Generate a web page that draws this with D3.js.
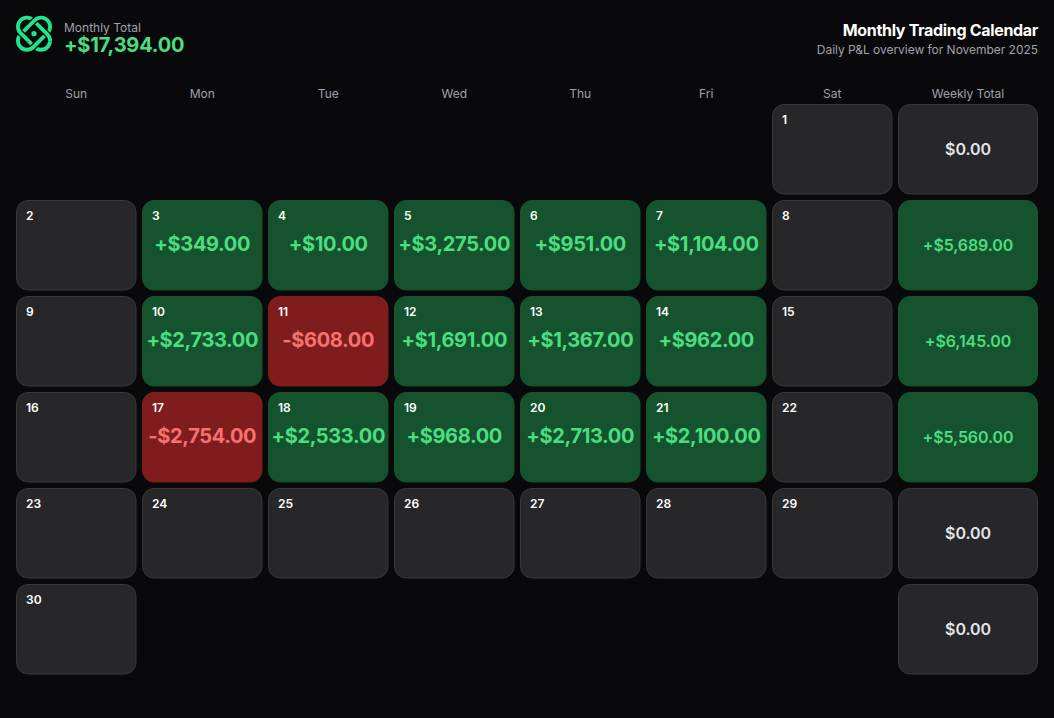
<!DOCTYPE html>
<html>
<head>
<meta charset="utf-8">
<script src="https://cdn.jsdelivr.net/npm/d3@7"></script>
<style>
  html, body { margin: 0; padding: 0; background: #09090b; }
  svg { display: block; font-family: Inter, sans-serif; }
</style>
</head>
<body>
<svg id="calendar" width="1054" height="718"></svg>
<script>
// ---- data ----
const weekdays = ['Sun', 'Mon', 'Tue', 'Wed', 'Thu', 'Fri', 'Sat'];
const weeklyLabel = 'Weekly Total';
const dayNumbers = d3.range(1, 31);
// Nov 1 2025 is a Saturday, so the grid starts on slot 6
const firstWeekday = 6;
const dayPnl = [
  null, null, 349, 10, 3275, 951, 1104, null,
  null, 2733, -608, 1691, 1367, 962, null,
  null, -2754, 2533, 968, 2713, 2100, null,
  null, null, null, null, null, null, null,
  null
];
const weeklyTotals = [0, 5689, 6145, 5560, 0, 0];
const monthlyTotal = 17394;

// ---- colors ----
const bg = '#09090b';
const emptyFill = '#27272a';
const emptyStroke = '#38383b';
const greenFill = '#14532d';
const redFill = '#7f1d1d';
const greenText = '#4ade80';
const redText = '#f87171';
const mutedText = '#a1a1aa';
const logoGreen = '#1fe58c';

// ---- helpers ----
function money(v) {
  if (v === 0) return '$0.00';
  const s = '$' + d3.format(',.2f')(Math.abs(v));
  return (v > 0 ? '+' : '-') + s;
}
function fillFor(v) {
  if (!v) return emptyFill;
  return v > 0 ? greenFill : redFill;
}
function textFor(v) {
  return v > 0 ? greenText : redText;
}

// ---- scales ----
const cellW = 120.5, weekW = 140;
const colX = d3.scaleLinear().domain([0, 7]).range([16, 898]);
const rowY = d3.scaleLinear().domain([0, 5]).range([104, 584]);
const cellH = 90.5;

const svg = d3.select('#calendar');

// ---- header ----
// logo: two crossed orbits, woven with a background halo at the crossings
const logo = svg.append('g').attr('transform', 'translate(34,33.7)').attr('fill', 'none');
function orbit(parent, angle, color, width) {
  return parent.append('rect')
    .attr('x', -19).attr('y', -9).attr('width', 38).attr('height', 18).attr('rx', 9)
    .attr('transform', `rotate(${angle})`)
    .attr('stroke', color).attr('stroke-width', width);
}
svg.append('defs').append('clipPath').attr('id', 'logo-sides')
  .selectAll('rect')
  .data([-1, 1])
  .join('rect')
  .attr('x', d => d < 0 ? -20 : 5).attr('y', -8).attr('width', 15).attr('height', 16);

orbit(logo, 45, logoGreen, 3.8);
orbit(logo, -45, bg, 6.4);
orbit(logo, -45, logoGreen, 3.8);
const sides = logo.append('g').attr('clip-path', 'url(#logo-sides)');
orbit(sides, 45, bg, 6.4);
orbit(sides, 45, logoGreen, 3.8);
logo.append('circle').attr('r', 2.6).attr('fill', logoGreen);

svg.append('text').attr('x', 64).attr('y', 32)
  .attr('font-size', 12).attr('fill', mutedText).text('Monthly Total');
svg.append('text').attr('x', 64).attr('y', 52)
  .attr('font-size', 20).attr('font-weight', 700).attr('letter-spacing', -0.2)
  .attr('fill', greenText).text(money(monthlyTotal));

svg.append('text').attr('x', 1038).attr('y', 36).attr('text-anchor', 'end')
  .attr('font-size', 16).attr('font-weight', 700).attr('letter-spacing', -0.32)
  .attr('fill', '#fff').text('Monthly Trading Calendar');
svg.append('text').attr('x', 1038).attr('y', 54).attr('text-anchor', 'end')
  .attr('font-size', 12).attr('letter-spacing', -0.03)
  .attr('fill', mutedText).text('Daily P&L overview for November 2025');

// ---- column headers ----
svg.selectAll('text.weekday')
  .data(weekdays)
  .join('text')
  .attr('class', 'weekday')
  .attr('x', (d, i) => colX(i) + cellW / 2)
  .attr('y', 98)
  .attr('text-anchor', 'middle')
  .attr('font-size', 12)
  .attr('fill', mutedText)
  .text(d => d);
svg.append('text')
  .attr('x', colX(7) + weekW / 2).attr('y', 98).attr('text-anchor', 'middle')
  .attr('font-size', 12).attr('fill', mutedText).text(weeklyLabel);

// ---- day cells ----
const days = dayNumbers.map((n, i) => {
  const slot = i + firstWeekday;
  return { n, v: dayPnl[i], col: slot % 7, row: Math.floor(slot / 7) };
});

const cells = svg.selectAll('g.day')
  .data(days)
  .join('g')
  .attr('class', 'day')
  .attr('transform', d => `translate(${colX(d.col)},${rowY(d.row)})`);

cells.append('rect')
  .attr('x', 0.5).attr('y', 0.5)
  .attr('width', cellW - 1).attr('height', cellH - 1).attr('rx', 11.5)
  .attr('fill', d => fillFor(d.v))
  .attr('stroke', d => d.v ? fillFor(d.v) : emptyStroke);

cells.append('text')
  .attr('x', 10).attr('y', 20)
  .attr('font-size', 12).attr('font-weight', 600).attr('fill', '#fff')
  .text(d => d.n);

cells.filter(d => d.v)
  .append('text')
  .attr('x', cellW / 2).attr('y', 50.5).attr('text-anchor', 'middle')
  .attr('font-size', 20).attr('font-weight', 700).attr('letter-spacing', -0.35)
  .attr('fill', d => textFor(d.v))
  .text(d => money(d.v));

// ---- weekly totals ----
const weeks = svg.selectAll('g.week')
  .data(weeklyTotals)
  .join('g')
  .attr('class', 'week')
  .attr('transform', (d, i) => `translate(${colX(7)},${rowY(i)})`);

weeks.append('rect')
  .attr('x', 0.5).attr('y', 0.5)
  .attr('width', weekW - 1).attr('height', cellH - 1).attr('rx', 11.5)
  .attr('fill', fillFor)
  .attr('stroke', d => d ? fillFor(d) : emptyStroke);

weeks.append('text')
  .attr('x', weekW / 2).attr('y', 51).attr('text-anchor', 'middle')
  .attr('font-size', 16).attr('font-weight', 600).attr('letter-spacing', -0.1)
  .attr('fill', d => d ? textFor(d) : '#e4e4e7')
  .text(money);
</script>
</body>
</html>
